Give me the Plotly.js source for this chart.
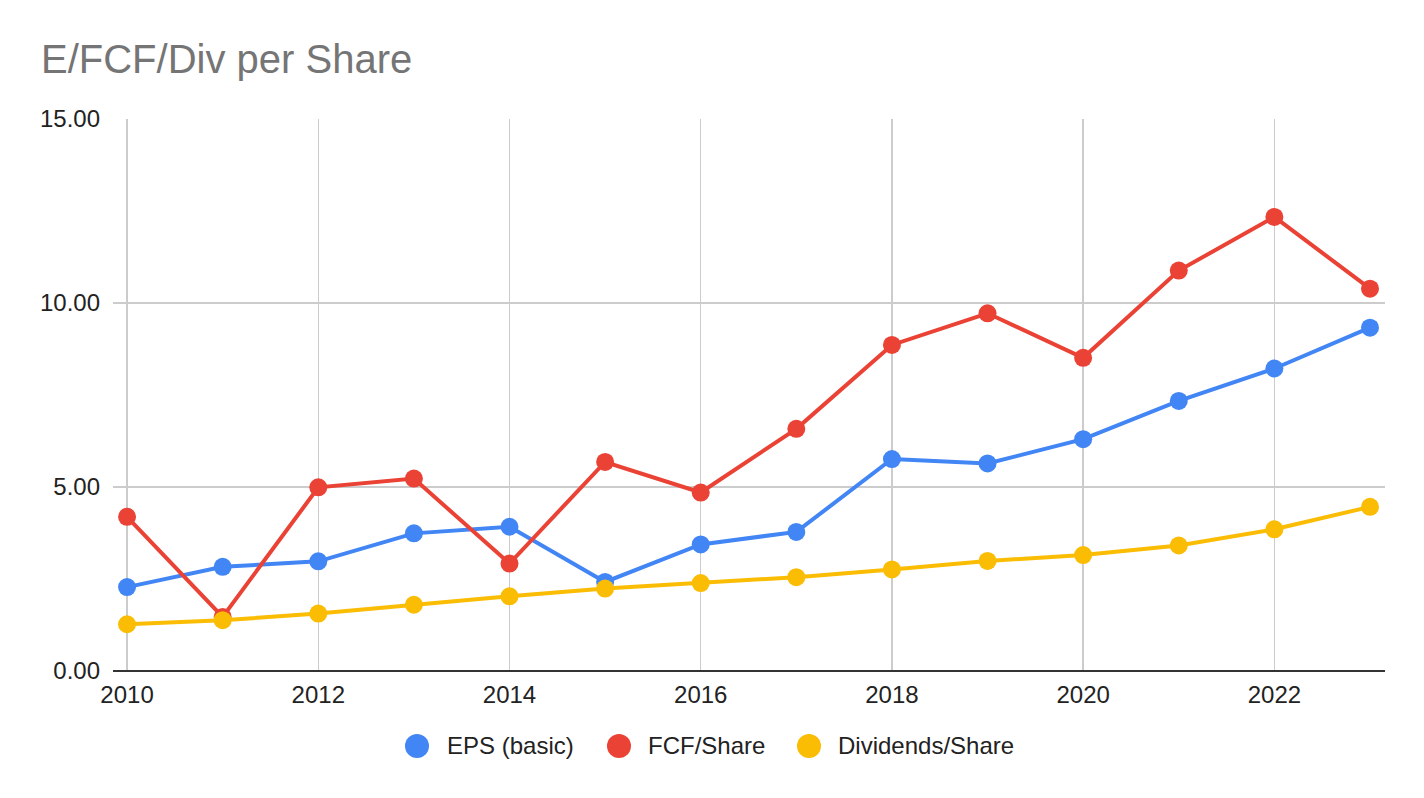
<!DOCTYPE html>
<html>
<head>
<meta charset="utf-8">
<script src="https://cdn.plot.ly/plotly-3.0.1.min.js"></script>
<style>
  html, body { margin: 0; padding: 0; background: #fff; }
  #chart { width: 1424px; height: 798px; }
</style>
</head>
<body>
<div id="chart"></div>
<script>
// per share figures
var years = [2010, 2011, 2012, 2013, 2014, 2015, 2016, 2017, 2018, 2019, 2020, 2021, 2022, 2023];
var epsBasic = [2.28, 2.83, 2.98, 3.74, 3.92, 2.42, 3.44, 3.78, 5.76, 5.64, 6.30, 7.34, 8.22, 9.33];
var fcfShare = [4.19, 1.47, 4.99, 5.23, 2.92, 5.68, 4.85, 6.58, 8.86, 9.72, 8.51, 10.88, 12.34, 10.39];
var divShare = [1.27, 1.38, 1.56, 1.80, 2.03, 2.24, 2.39, 2.55, 2.76, 2.99, 3.15, 3.41, 3.85, 4.46];
var seriesNames = ['EPS (basic)', 'FCF/Share', 'Dividends/Share'];
var seriesColors = ['#4285F4', '#EA4335', '#FBBC04'];
var yTicks = [0, 5, 10, 15];

var font = 'Arial, "Liberation Sans", sans-serif';

// plot area in pixels
var W = 1424, H = 798;
var m = { l: 113, r: 39, t: 119, b: 127 };
var plotW = W - m.l - m.r, plotH = H - m.t - m.b;
function px(x) { return (x - m.l) / plotW; }
function py(y) { return (H - m.b - y) / plotH; }

var data = [epsBasic, fcfShare, divShare].map(function (vals, i) {
  return {
    x: years,
    y: vals,
    name: seriesNames[i],
    type: 'scatter',
    mode: 'lines+markers',
    line: { color: seriesColors[i], width: 4 },
    marker: { color: seriesColors[i], size: 18 },
    hoverinfo: 'none',
    showlegend: false
  };
});

// legend drawn by hand like the sheets one: big dot + label
var legDot = [417, 619, 809];
var legText = [446, 647, 837];
var legY = 746;
var shapes = [], annotations = [];
seriesNames.forEach(function (name, i) {
  shapes.push({
    type: 'circle',
    xref: 'paper', yref: 'paper',
    xsizemode: 'pixel', ysizemode: 'pixel',
    xanchor: px(legDot[i]), yanchor: py(legY),
    x0: -12, x1: 12, y0: -12, y1: 12,
    fillcolor: seriesColors[i],
    line: { width: 0 }
  });
  annotations.push({
    text: name,
    xref: 'paper', yref: 'paper',
    x: px(legText[i]), y: py(legY - 1),
    xanchor: 'left', yanchor: 'middle',
    showarrow: false,
    borderpad: 0,
    font: { family: font, size: 24, color: '#222' }
  });
});

var layout = {
  width: W,
  height: H,
  paper_bgcolor: '#fff',
  plot_bgcolor: '#fff',
  font: { family: font, size: 24, color: '#222' },
  title: {
    text: 'E/FCF/Div per Share',
    font: { family: font, size: 40, color: '#757575' },
    xref: 'container',
    x: 41 / W,
    xanchor: 'left',
    yref: 'container',
    y: 1 - 59 / H,
    yanchor: 'middle'
  },
  margin: m,
  showlegend: false,
  xaxis: {
    range: [2009.853, 2023.157],
    tick0: 2010,
    dtick: 2,
    tickformat: 'd',
    showgrid: true,
    gridcolor: '#cccccc',
    gridwidth: 1.5,
    zeroline: false,
    showline: false,
    ticks: '',
    ticklabelstandoff: 7,
    tickfont: { family: font, size: 24, color: '#222' }
  },
  yaxis: {
    range: [0, 15],
    tickvals: yTicks,
    tickformat: '.2f',
    showgrid: true,
    gridcolor: '#cccccc',
    gridwidth: 1.5,
    zeroline: true,
    zerolinecolor: '#333333',
    zerolinewidth: 2.5,
    showline: false,
    ticks: '',
    ticklabelstandoff: 12,
    tickfont: { family: font, size: 24, color: '#222' }
  },
  shapes: shapes,
  annotations: annotations
};

var config = {
  responsive: false,
  displayModeBar: false,
  staticPlot: true
};

Plotly.newPlot('chart', data, layout, config);
</script>
</body>
</html>
